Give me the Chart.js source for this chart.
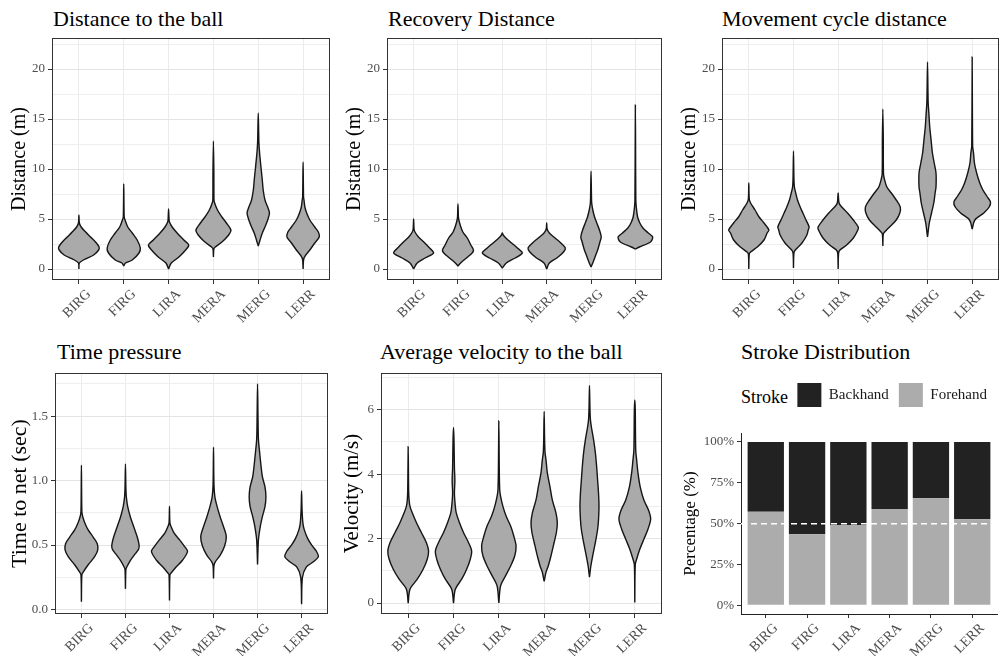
<!DOCTYPE html>
<html>
<head>
<meta charset="utf-8">
<script src="https://cdn.jsdelivr.net/npm/chart.js@4.4.1/dist/chart.umd.min.js"></script>
<style>
  html, body { margin: 0; padding: 0; background: #fff; overflow: hidden; }
  #page { position: relative; width: 1003px; height: 656px; font-family: 'Liberation Serif', 'Times New Roman', serif; }
  canvas { position: absolute; }
  .ttl { position: absolute; font-size: 22px; line-height: 22px; color: #000; white-space: nowrap; }
  .lgd { position: absolute; font-size: 18px; line-height: 18px; color: #000; }
</style>
</head>
<body>
<div id="page">
  <div class="ttl" style="left:53px;top:8px">Distance to the ball</div>
  <div class="ttl" style="left:388px;top:8px">Recovery Distance</div>
  <div class="ttl" style="left:722px;top:8px">Movement cycle distance</div>
  <div class="ttl" style="left:57px;top:341px">Time pressure</div>
  <div class="ttl" style="left:380px;top:341px">Average velocity to the ball</div>
  <div class="ttl" style="left:741px;top:341px">Stroke Distribution</div>
  <div class="lgd" style="left:741px;top:388px">Stroke</div>
  <canvas id="c1" width="336" height="301" style="left:0px;top:24px"></canvas>
  <canvas id="c2" width="333" height="301" style="left:335px;top:24px"></canvas>
  <canvas id="c3" width="333" height="301" style="left:670px;top:24px"></canvas>
  <canvas id="c4" width="334" height="297" style="left:0px;top:359px"></canvas>
  <canvas id="c5" width="332" height="297" style="left:336px;top:359px"></canvas>
  <canvas id="c6" width="324" height="283" style="left:679px;top:373px"></canvas>
</div>
<script>
// joueurs (axe x)
const players = ['BIRG', 'FIRG', 'LIRA', 'MERA', 'MERG', 'LERR'];

// profils des violons : [valeur, demi-largeur en unités de catégorie]
const distanceToBall = [
  [[0,0],[0.6,0.01],[0.9,0.1],[1.4,0.33],[1.9,0.44],[2.2,0.45],[2.7,0.37],[3.2,0.26],[3.7,0.15],[4.2,0.05],[4.6,0.01],[5.4,0]],
  [[0.3,0],[0.6,0.04],[0.9,0.19],[1.6,0.34],[2.1,0.37],[2.9,0.3],[3.6,0.19],[4.2,0.09],[4.9,0.03],[5.2,0.01],[8.5,0]],
  [[0,0],[0.6,0.06],[1.2,0.23],[1.9,0.38],[2.4,0.45],[2.9,0.34],[3.6,0.19],[4.2,0.08],[4.7,0.02],[5.0,0.01],[6.0,0]],
  [[1.2,0],[2.0,0.01],[2.2,0.04],[2.7,0.19],[3.4,0.34],[3.9,0.39],[4.6,0.29],[5.2,0.19],[5.9,0.09],[6.7,0.02],[7.0,0.012],[9.7,0.01],[12.8,0]],
  [[2.3,0],[2.9,0.04],[3.6,0.09],[4.2,0.15],[4.9,0.21],[5.6,0.25],[6.2,0.21],[6.9,0.15],[7.9,0.11],[8.9,0.09],[10.2,0.06],[11.6,0.03],[12.6,0.015],[13.5,0.01],[15.6,0]],
  [[0,0],[1.1,0.02],[1.9,0.15],[2.6,0.26],[3.2,0.36],[3.7,0.34],[4.2,0.26],[4.9,0.15],[5.6,0.08],[6.2,0.04],[6.9,0.02],[7.2,0.01],[10.7,0]]
];
const recoveryDistance = [
  [[0,0],[0.6,0.08],[1.1,0.26],[1.6,0.45],[2.1,0.36],[2.7,0.23],[3.2,0.11],[3.7,0.03],[4.0,0.01],[5.0,0]],
  [[0.3,0],[0.6,0.06],[1.1,0.19],[1.6,0.32],[1.9,0.35],[2.4,0.29],[3.1,0.21],[3.7,0.11],[4.4,0.05],[4.9,0.02],[5.2,0.01],[6.5,0]],
  [[0.1,0],[0.6,0.09],[1.1,0.29],[1.6,0.45],[2.1,0.34],[2.6,0.21],[3.1,0.08],[3.4,0.02],[3.6,0]],
  [[0,0],[0.6,0.06],[1.1,0.23],[1.7,0.38],[2.1,0.42],[2.6,0.32],[3.1,0.19],[3.6,0.06],[4.0,0.01],[4.6,0]],
  [[0.2,0],[0.6,0.04],[1.2,0.09],[1.9,0.15],[2.7,0.2],[3.2,0.23],[3.9,0.19],[4.6,0.13],[5.2,0.08],[5.9,0.04],[6.6,0.015],[7.3,0.01],[9.8,0]],
  [[2.0,0],[2.2,0.09],[2.7,0.34],[3.2,0.39],[3.6,0.29],[4.1,0.17],[4.6,0.1],[5.2,0.05],[6.2,0.02],[6.9,0.01],[16.4,0]]
];
const cycleDistance = [
  [[0,0],[1.5,0.01],[1.7,0.04],[2.2,0.19],[2.9,0.34],[3.6,0.41],[3.9,0.45],[4.6,0.34],[5.2,0.23],[5.9,0.14],[6.6,0.04],[7.0,0.01],[8.6,0]],
  [[0.1,0],[1.6,0.01],[1.9,0.04],[2.6,0.19],[3.4,0.3],[3.9,0.33],[4.2,0.35],[4.9,0.28],[5.6,0.21],[6.2,0.15],[6.9,0.09],[7.6,0.05],[8.2,0.02],[9.0,0.01],[11.8,0]],
  [[0,0],[1.6,0.01],[1.9,0.04],[2.4,0.19],[3.1,0.34],[3.9,0.44],[4.2,0.45],[4.9,0.34],[5.6,0.21],[6.2,0.08],[6.6,0.02],[7.6,0]],
  [[2.3,0],[3.5,0.01],[3.7,0.04],[4.2,0.15],[4.9,0.3],[5.6,0.38],[6.2,0.39],[6.9,0.3],[7.6,0.19],[8.2,0.09],[8.9,0.04],[9.5,0.015],[13,0.01],[16,0]],
  [[3.2,0],[4.6,0.04],[5.6,0.09],[6.6,0.14],[7.6,0.17],[8.2,0.19],[9.6,0.19],[10.6,0.15],[11.6,0.11],[12.9,0.08],[14.2,0.05],[15.6,0.03],[16.6,0.015],[17.7,0.01],[20.7,0]],
  [[4.0,0],[4.9,0.06],[5.6,0.26],[6.2,0.38],[6.7,0.41],[7.2,0.34],[7.9,0.24],[8.6,0.17],[9.6,0.1],[10.6,0.05],[11.6,0.03],[12.3,0.01],[21.2,0]]
];
const timePressure = [
  [[0.06,0],[0.27,0.01],[0.29,0.04],[0.345,0.15],[0.41,0.3],[0.46,0.37],[0.51,0.36],[0.56,0.27],[0.62,0.15],[0.67,0.08],[0.72,0.03],[0.76,0.01],[1.12,0]],
  [[0.16,0],[0.31,0.01],[0.33,0.03],[0.38,0.11],[0.435,0.23],[0.47,0.3],[0.5,0.31],[0.56,0.27],[0.64,0.19],[0.72,0.11],[0.8,0.05],[0.875,0.02],[0.94,0.01],[1.13,0]],
  [[0.07,0],[0.27,0.01],[0.28,0.03],[0.33,0.15],[0.38,0.29],[0.45,0.41],[0.49,0.34],[0.54,0.23],[0.59,0.11],[0.64,0.04],[0.67,0.01],[0.8,0]],
  [[0.24,0],[0.34,0.01],[0.37,0.04],[0.42,0.15],[0.49,0.25],[0.565,0.29],[0.64,0.23],[0.72,0.15],[0.8,0.08],[0.875,0.03],[0.97,0.01],[1.26,0]],
  [[0.35,0],[0.54,0.02],[0.64,0.06],[0.72,0.11],[0.8,0.17],[0.875,0.19],[0.95,0.17],[1.03,0.11],[1.11,0.08],[1.21,0.05],[1.32,0.02],[1.5,0.01],[1.75,0]],
  [[0.04,0],[0.25,0.02],[0.33,0.11],[0.37,0.27],[0.41,0.38],[0.45,0.34],[0.5,0.23],[0.55,0.14],[0.62,0.06],[0.67,0.03],[0.78,0.01],[0.92,0]]
];
const velocityToBall = [
  [[0,0],[0.43,0.04],[0.74,0.2],[1.05,0.33],[1.36,0.42],[1.62,0.45],[1.88,0.4],[2.19,0.29],[2.5,0.18],[2.8,0.09],[3.0,0.04],[3.2,0.02],[3.5,0.01],[4.85,0]],
  [[0,0],[0.43,0.04],[0.74,0.18],[1.05,0.29],[1.36,0.37],[1.62,0.4],[1.88,0.33],[2.19,0.22],[2.5,0.13],[2.8,0.06],[3.0,0.04],[3.4,0.02],[3.8,0.03],[4.2,0.02],[5.1,0.01],[5.45,0]],
  [[0,0],[0.54,0.04],[0.85,0.15],[1.15,0.26],[1.46,0.35],[1.77,0.38],[2.08,0.33],[2.39,0.26],[2.7,0.16],[3.0,0.09],[3.3,0.04],[3.5,0.02],[4.1,0.01],[5.65,0]],
  [[0.67,0],[0.95,0.04],[1.15,0.09],[1.46,0.15],[1.88,0.22],[2.19,0.27],[2.5,0.29],[2.8,0.26],[3.2,0.18],[3.6,0.13],[4.04,0.07],[4.45,0.04],[4.66,0.02],[5.05,0.01],[5.95,0]],
  [[0.8,0],[1.15,0.03],[1.46,0.07],[1.88,0.13],[2.29,0.18],[2.6,0.2],[3.0,0.21],[3.4,0.2],[3.8,0.18],[4.2,0.16],[4.66,0.13],[5.07,0.09],[5.48,0.04],[5.7,0.02],[6.05,0.01],[6.75,0]],
  [[0.02,0],[1.2,0.01],[1.36,0.04],[1.67,0.11],[1.98,0.2],[2.29,0.29],[2.6,0.35],[2.86,0.31],[3.2,0.2],[3.6,0.12],[4.04,0.07],[4.45,0.04],[4.76,0.02],[6.0,0.01],[6.3,0]]
];

// répartition des coups (%)
const forehand = [57.3, 43.5, 49.2, 59.0, 65.5, 52.7];
const backhand = [42.7, 56.5, 50.8, 41.0, 34.5, 47.3];
const evenSplit = 50;

// graduations
const distTicks = [0, 5, 10, 15, 20];
const distMinor = [2.5, 7.5, 12.5, 17.5, 22.5];
const timeTicks = [0, 0.5, 1, 1.5];
const timeMinor = [0.25, 0.75, 1.25, 1.75];
const velTicks = [0, 2, 4, 6];
const velMinor = [1, 3, 5, 7];
const pctTicks = [0, 25, 50, 75, 100];

const xMin = -0.6, xMax = 5.6;
const serif = "'Liberation Serif', 'Times New Roman', serif";

// cadre autour du panneau (theme_bw)
const panelBox = {
    id: 'panelBox',
    afterDatasetsDraw(chart) {
        const {ctx, chartArea: a} = chart;
        ctx.save();
        ctx.strokeStyle = '#333333';
        ctx.lineWidth = 1;
        ctx.strokeRect(Math.round(a.left) + 0.5, Math.round(a.top) + 0.5, Math.round(a.width) - 1, Math.round(a.height) - 1);
        ctx.restore();
    }
};

// espace sous la légende
const legendMargin = {
    id: 'legendMargin',
    beforeInit(chart) {
        const fit = chart.legend.fit;
        chart.legend.fit = function () {
            fit.bind(chart.legend)();
            this.height += 16;
        };
    }
};

function buildViolins(shapes) {
    return shapes.map((shape, i) => {
        const right = shape.map(([v, w]) => ({x: i + w, y: v}));
        const left = shape.slice(0, -1).reverse().map(([v, w]) => ({x: i - w, y: v}));
        return {
            label: players[i],
            data: right.concat(left),
            backgroundColor: '#aaaaaa',
            borderColor: '#151515',
            borderWidth: 1.4,
            fill: 'shape',
            pointRadius: 0,
            tension: 0.3
        };
    });
}

function xAxis(height) {
    return {
        type: 'linear',
        min: xMin,
        max: xMax,
        offset: false,
        afterBuildTicks: ax => { ax.ticks = players.map((p, i) => ({value: i})); },
        afterFit: ax => { ax.height = height; },
        ticks: {
            callback: v => players[v],
            autoSkip: false,
            minRotation: 45,
            maxRotation: 45,
            labelOffset: 10,
            padding: 2,
            font: {family: serif, size: 14},
            color: '#4d4d4d'
        },
        grid: {color: '#ebebeb', lineWidth: 1, tickLength: 4, tickColor: '#333333'},
        border: {display: false}
    };
}

function violinChart(id, shapes, cfg) {
    const isMajor = v => cfg.major.includes(v);
    return new Chart(document.getElementById(id), {
        type: 'line',
        data: {datasets: buildViolins(shapes)},
        options: {
            responsive: false,
            animation: false,
            layout: {padding: {top: 14, right: cfg.padRight, left: 0, bottom: 0}},
            plugins: {legend: {display: false}, tooltip: {enabled: false}},
            scales: {
                x: xAxis(cfg.xH),
                y: {
                    min: cfg.min,
                    max: cfg.max,
                    afterBuildTicks: ax => {
                        ax.ticks = cfg.major.concat(cfg.minor).sort((a, b) => a - b).map(v => ({value: v}));
                    },
                    afterFit: ax => { ax.width = cfg.yW; },
                    ticks: {
                        callback: v => isMajor(v) ? cfg.fmt(v) : '',
                        autoSkip: false,
                        padding: 3,
                        font: {family: serif, size: 13},
                        color: '#4d4d4d'
                    },
                    grid: {
                        color: c => (c.tick && isMajor(c.tick.value)) ? '#e4e4e4' : '#eeeeee',
                        lineWidth: 1,
                        tickLength: 4,
                        tickColor: c => (c.tick && isMajor(c.tick.value)) ? '#333333' : 'rgba(0,0,0,0)'
                    },
                    border: {display: false},
                    title: {
                        display: true,
                        text: cfg.title,
                        color: '#000',
                        font: {family: serif, size: cfg.titleSize},
                        padding: {top: cfg.titlePad, bottom: 0}
                    }
                }
            }
        },
        plugins: [panelBox]
    });
}

violinChart('c1', distanceToBall, {
    min: -1.1, max: 23.1, major: distTicks, minor: distMinor, fmt: v => String(v),
    title: 'Distance (m)', titleSize: 20, yW: 52, padRight: 6, xH: 45, titlePad: 8
});
violinChart('c2', recoveryDistance, {
    min: -1.1, max: 23.1, major: distTicks, minor: distMinor, fmt: v => String(v),
    title: 'Distance (m)', titleSize: 20, yW: 52, padRight: 6, xH: 45, titlePad: 8
});
violinChart('c3', cycleDistance, {
    min: -1.1, max: 23.1, major: distTicks, minor: distMinor, fmt: v => String(v),
    title: 'Distance (m)', titleSize: 20, yW: 52, padRight: 4, xH: 45, titlePad: 8
});
violinChart('c4', timePressure, {
    min: -0.035, max: 1.835, major: timeTicks, minor: timeMinor, fmt: v => v.toFixed(1),
    title: 'Time to net (sec)', titleSize: 22, yW: 55, padRight: 6, xH: 42, titlePad: 7
});
violinChart('c5', velocityToBall, {
    min: -0.34, max: 7.14, major: velTicks, minor: velMinor, fmt: v => String(v),
    title: 'Velocity (m/s)', titleSize: 21, yW: 45, padRight: 6, xH: 42, titlePad: 4
});

// répartition coup droit / revers
new Chart(document.getElementById('c6'), {
    type: 'bar',
    data: {
        datasets: [
            {
                label: 'Forehand',
                data: forehand.map((v, i) => ({x: i, y: v})),
                backgroundColor: '#acacac',
                stack: 'strokes',
                categoryPercentage: 1,
                barPercentage: 0.88
            },
            {
                label: 'Backhand',
                data: backhand.map((v, i) => ({x: i, y: v})),
                backgroundColor: '#222222',
                stack: 'strokes',
                categoryPercentage: 1,
                barPercentage: 0.88
            },
            {
                type: 'line',
                label: '',
                data: [{x: xMin, y: evenSplit}, {x: xMax, y: evenSplit}],
                borderColor: '#ffffff',
                borderWidth: 1.5,
                borderDash: [6, 4],
                pointRadius: 0,
                fill: false,
                stack: 'ref',
                order: -1
            }
        ]
    },
    options: {
        responsive: false,
        animation: false,
        layout: {padding: {top: 0, right: 6, left: 0, bottom: 0}},
        plugins: {
            tooltip: {enabled: false},
            legend: {
                position: 'top',
                align: 'end',
                reverse: true,
                labels: {
                    filter: item => item.text !== '',
                    boxWidth: 24,
                    boxHeight: 24,
                    padding: 10,
                    color: '#1a1a1a',
                    font: {family: serif, size: 15}
                }
            }
        },
        scales: {
            x: Object.assign(xAxis(42), {
                stacked: true,
                grid: {offset: false, drawOnChartArea: false, tickLength: 4, tickColor: '#333333'},
                border: {display: true, color: '#222222', width: 1}
            }),
            y: {
                stacked: true,
                min: -5.3,
                max: 105.5,
                afterBuildTicks: ax => { ax.ticks = pctTicks.map(v => ({value: v})); },
                afterFit: ax => { ax.width = 62; },
                ticks: {
                    callback: v => v + '%',
                    padding: 3,
                    font: {family: serif, size: 13},
                    color: '#4d4d4d'
                },
                grid: {drawOnChartArea: false, tickLength: 4, tickColor: '#333333'},
                border: {display: true, color: '#222222', width: 1},
                title: {
                    display: true,
                    text: 'Percentage (%)',
                    color: '#000',
                    font: {family: serif, size: 17},
                    padding: {top: 1, bottom: 0}
                }
            }
        }
    },
    plugins: [legendMargin]
});
</script>
</body>
</html>
